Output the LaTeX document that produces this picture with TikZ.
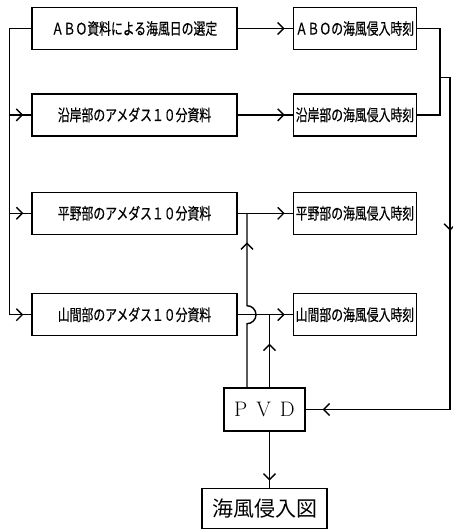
\documentclass[tikz,border=0pt]{standalone}
\usepackage{fontspec}
\newfontfamily\jpfont[FakeStretch=0.74, FakeBold=0.4]{Noto Sans CJK JP}
\newfontfamily\jpwide{Noto Sans CJK JP}
\usepackage{tikz}
\usetikzlibrary{arrows.meta, positioning, calc, decorations.markings}

\begin{document}
\begin{tikzpicture}[x=1pt, y=1pt, line width=1.4pt, node distance=55pt,
    >={Straight Barb[length=6pt,width=12pt]},
    every node/.style={align=center, font=\jpfont\fontsize{16}{19}\selectfont},
    srcbox/.style={draw, rectangle, minimum width=205pt, minimum height=42pt, inner sep=2pt},
    timebox/.style={draw, rectangle, minimum width=123pt, minimum height=42pt, inner sep=2pt},
    arrowat/.style={postaction={decorate, decoration={markings, mark=at position #1 with {\arrow{>}}}}}]
        \useasboundingbox (0,0) rectangle (452,529);

        % data sources
        \node (abosel) [srcbox] at (134.5,500.5) {ＡＢＯ資料による海風日の選定};
        \node (engan) [srcbox, below=43pt of abosel] {沿岸部のアメダス１０分資料};
        \node (heiya) [srcbox, below=55pt of engan] {平野部のアメダス１０分資料};
        \node (yama) [srcbox, below=58pt of heiya] {山間部のアメダス１０分資料};

        % onset times
        \node (abotime) [timebox, right=of abosel] {ＡＢＯの海風侵入時刻};
        \node (engantime) [timebox, right=of engan] {沿岸部の海風侵入時刻};
        \node (heiyatime) [timebox, right=of heiya] {平野部の海風侵入時刻};
        \node (yamatime) [timebox, right=of yama] {山間部の海風侵入時刻};

        \node (pvd) [draw, rectangle, minimum width=81pt, minimum height=43pt, inner sep=2pt,
            font=\rmfamily\fontsize{21}{24}\selectfont] at (264.5,119.5) {P\hspace{9pt}V\hspace{9pt}D};
        \node (zu) [draw, rectangle, minimum width=125pt, minimum height=40pt, inner sep=2pt,
            font=\jpwide\fontsize{21}{24}\selectfont, below=56pt of pvd] {海風侵入図};

        % left trunk
        \coordinate (ltop) at ([xshift=-22pt]abosel.west);
        \draw[arrowat=-8pt] (abosel.west) -- (ltop) |- (yama.west);
        \draw[arrowat=-8pt] (ltop |- engan.west) -- (engan.west);
        \draw[arrowat=-8pt] (ltop |- heiya.west) -- (heiya.west);

        \draw[arrowat=-8pt] (abosel.east) -- (abotime.west);
        \draw[arrowat=-8pt] (engan.east) -- (engantime.west);
        \draw[arrowat=-8pt] (heiya.east) -- (heiyatime.west);
        \draw[arrowat=-8pt] (yama.east) -- (yamatime.west);

        % right side back to PVD
        \coordinate (rjoin) at ([xshift=23pt]abotime.east);
        \draw (abotime.east) -- (rjoin) |- (engantime.east);
        \coordinate (rmid) at ($(rjoin)!0.57!(rjoin |- engantime.east)$);
        \coordinate (rfar) at ([xshift=10pt]rmid);
        \draw[arrowat=163pt, arrowat=-17pt] (rmid) -- (rfar) -- (rfar |- pvd.east) -- (pvd.east);

        % PVD upwards
        \coordinate (up1) at ([xshift=-17.5pt]pvd.north);
        \coordinate (up2) at ([xshift=5pt]pvd.north);
        \coordinate (hop) at (up1 |- yama.east);
        \draw[arrowat=-29pt] (up1) -- ([yshift=-9pt]hop) arc (-90:90:9pt) -- (up1 |- heiya.east);
        \draw[arrowat=-29pt] (up2) -- (up2 |- yama.east);

        \draw[arrowat=-7pt] ([xshift=5pt]pvd.south) -- ([xshift=5pt]zu.north);
\end{tikzpicture}
\end{document}
